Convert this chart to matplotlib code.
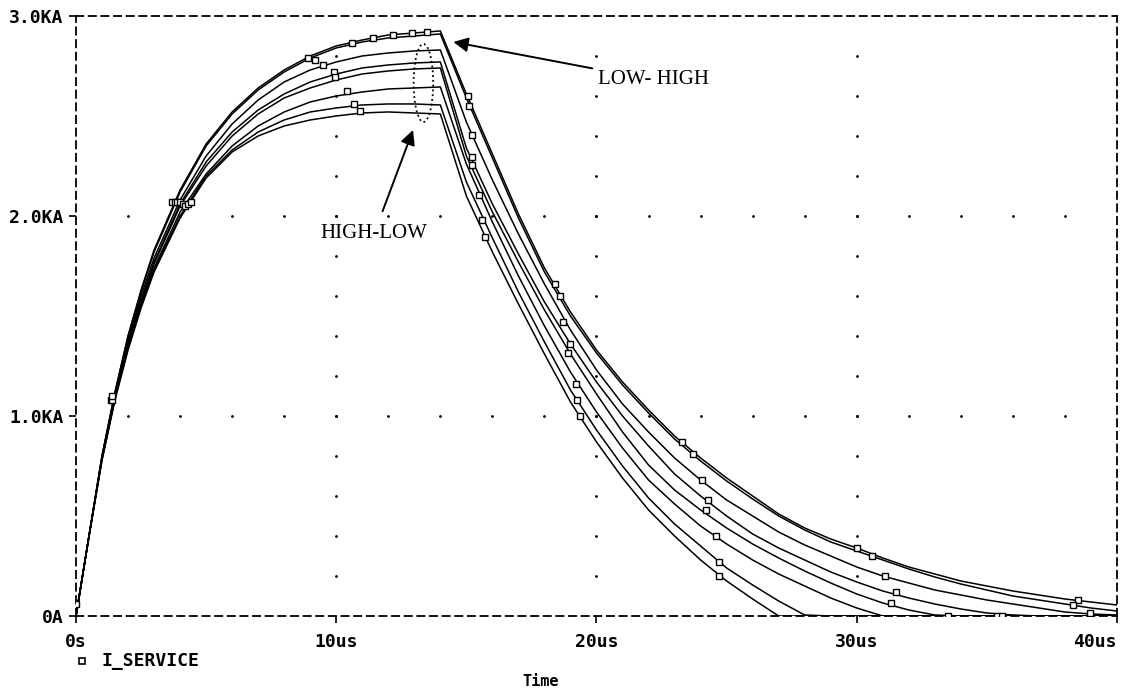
import numpy as np
import matplotlib
matplotlib.use("Agg")
from matplotlib import pyplot as plt
from matplotlib.patches import Ellipse

# time axis (us): rise part then fall part
t_rise = [0, 0.5, 1, 1.5, 2, 2.5, 3, 4, 5, 6, 7, 8, 9, 10, 11, 12, 13, 14]
t_fall = [15, 16, 17, 18, 19, 20, 21, 22, 23, 24, 25, 26, 27, 28, 29, 30,
          31, 32, 33, 34, 35, 36, 37, 38, 39, 40]
t_us = t_rise + t_fall

# I_SERVICE traces (KA), from highest peak to lowest peak
i_a1 = [0, .40, .80, 1.12, 1.40, 1.63, 1.83, 2.13, 2.36, 2.52, 2.64, 2.73, 2.80, 2.85, 2.88, 2.905, 2.915, 2.925,
        2.61, 2.31, 2.01, 1.74, 1.52, 1.33, 1.17, 1.03, 0.90, 0.79, 0.69, 0.60, 0.51, 0.44, 0.385, 0.34,
        0.29, 0.245, 0.21, 0.175, 0.15, 0.125, 0.105, 0.085, 0.07, 0.055]
i_a2 = [0, .40, .80, 1.12, 1.40, 1.62, 1.82, 2.12, 2.35, 2.51, 2.63, 2.72, 2.79, 2.84, 2.87, 2.89, 2.90, 2.91,
        2.59, 2.29, 1.99, 1.72, 1.50, 1.315, 1.155, 1.015, 0.885, 0.775, 0.675, 0.585, 0.50, 0.43, 0.37, 0.325,
        0.28, 0.235, 0.195, 0.16, 0.13, 0.10, 0.08, 0.06, 0.04, 0.025]
i_b = [0, .40, .80, 1.11, 1.38, 1.60, 1.79, 2.08, 2.30, 2.46, 2.58, 2.67, 2.73, 2.77, 2.80, 2.815, 2.825, 2.83,
       2.47, 2.18, 1.91, 1.66, 1.43, 1.23, 1.06, 0.92, 0.79, 0.68, 0.58, 0.50, 0.42, 0.355, 0.30, 0.245,
       0.20, 0.165, 0.13, 0.105, 0.08, 0.06, 0.04, 0.02, 0.01, 0.005]
i_c = [0, .40, .79, 1.10, 1.37, 1.58, 1.77, 2.06, 2.27, 2.42, 2.53, 2.61, 2.67, 2.71, 2.74, 2.755, 2.765, 2.77,
       2.34, 2.06, 1.81, 1.57, 1.36, 1.17, 1.00, 0.85, 0.71, 0.60, 0.50, 0.41, 0.34, 0.28, 0.22, 0.17,
       0.125, 0.09, 0.06, 0.035, 0.015, 0.005, 0.0, 0.0, 0.0, 0.0]
i_d = [0, .40, .79, 1.10, 1.36, 1.57, 1.76, 2.05, 2.25, 2.40, 2.51, 2.59, 2.64, 2.68, 2.71, 2.725, 2.735, 2.74,
       2.30, 2.02, 1.77, 1.53, 1.31, 1.11, 0.92, 0.755, 0.63, 0.53, 0.44, 0.36, 0.29, 0.225, 0.165, 0.11,
       0.065, 0.03, 0.005, 0.0, 0.0, 0.0, 0.0, 0.0, 0.0, 0.0]
i_e = [0, .40, .79, 1.09, 1.35, 1.56, 1.74, 2.02, 2.21, 2.35, 2.45, 2.52, 2.57, 2.60, 2.62, 2.635, 2.64, 2.645,
       2.26, 1.97, 1.70, 1.45, 1.22, 1.02, 0.84, 0.68, 0.56, 0.45, 0.36, 0.28, 0.21, 0.15, 0.09, 0.04,
       0.0, 0.0, 0.0, 0.0, 0.0, 0.0, 0.0, 0.0, 0.0, 0.0]
i_f = [0, .40, .78, 1.09, 1.34, 1.55, 1.73, 2.00, 2.20, 2.33, 2.42, 2.48, 2.52, 2.54, 2.555, 2.56, 2.56, 2.555,
       2.17, 1.89, 1.62, 1.37, 1.13, 0.93, 0.75, 0.59, 0.46, 0.35, 0.24, 0.155, 0.075, 0.005, 0.0, 0.0,
       0.0, 0.0, 0.0, 0.0, 0.0, 0.0, 0.0, 0.0, 0.0, 0.0]
i_g = [0, .40, .78, 1.08, 1.33, 1.54, 1.72, 1.99, 2.19, 2.32, 2.40, 2.45, 2.48, 2.50, 2.515, 2.52, 2.515, 2.51,
       2.10, 1.82, 1.56, 1.31, 1.07, 0.87, 0.69, 0.53, 0.40, 0.28, 0.175, 0.085, 0.0, 0.0, 0.0, 0.0,
       0.0, 0.0, 0.0, 0.0, 0.0, 0.0, 0.0, 0.0, 0.0, 0.0]
traces = [i_a1, i_a2, i_b, i_c, i_d, i_e, i_f, i_g]

# marker positions (t us, I KA) seen on each trace
mk_a1 = [(0, 0.06), (1.35, 1.08), (3.7, 2.07), (8.9, 2.79), (10.6, 2.865), (11.4, 2.89), (12.2, 2.905),
         (12.9, 2.915), (13.5, 2.92), (15.05, 2.6), (18.4, 1.66), (23.3, 0.87), (30.0, 0.34), (38.5, 0.08)]
mk_a2 = [(1.4, 1.08), (3.8, 2.07), (9.2, 2.78), (15.1, 2.55), (18.6, 1.6), (23.7, 0.81), (30.6, 0.3), (38.3, 0.055)]
mk_b = [(1.4, 1.1), (3.9, 2.07), (9.5, 2.755), (15.2, 2.405), (18.7, 1.47), (24.05, 0.68), (31.1, 0.2), (38.95, 0.015)]
mk_c = [(4.0, 2.07), (9.9, 2.72), (15.2, 2.295), (19.0, 1.36), (24.3, 0.58), (31.5, 0.12)]
mk_d = [(4.1, 2.06), (9.95, 2.695), (15.2, 2.255), (18.9, 1.315), (24.2, 0.53), (31.3, 0.065)]
mk_e = [(4.2, 2.05), (10.4, 2.625), (15.5, 2.105), (19.2, 1.16), (24.6, 0.40), (33.5, 0.0)]
mk_f = [(4.3, 2.06), (10.7, 2.56), (15.6, 1.98), (19.25, 1.08), (24.7, 0.27), (35.4, 0.0)]
mk_g = [(4.4, 2.07), (10.9, 2.525), (15.7, 1.895), (19.35, 1.0), (24.7, 0.20), (35.6, 0.0)]
markers = [mk_a1, mk_a2, mk_b, mk_c, mk_d, mk_e, mk_f, mk_g]

x_ticks = [0, 10, 20, 30, 40]
x_labels = ['0s', '10us', '20us', '30us', '40us']
y_ticks = [0, 1, 2, 3]
y_labels = ['0A', '1.0KA', '2.0KA', '3.0KA']

mono = {'family': 'DejaVu Sans Mono', 'weight': 'bold', 'size': 13}
serif = {'family': 'Liberation Serif', 'size': 15}

fig = plt.figure(figsize=(11.31, 6.94), dpi=100)
ax = fig.add_axes([0.0672, 0.1124, 0.9204, 0.8646])

# dotted grid
for gx in [10, 20, 30]:
    gy = np.arange(0.2, 3.0, 0.2)
    ax.plot([gx] * len(gy), gy, 'k.', ms=2, zorder=1)
for gy in [1, 2]:
    gx = np.arange(2, 40, 2)
    ax.plot(gx, [gy] * len(gx), 'k.', ms=2, zorder=1)

for tr, mk in zip(traces, markers):
    ax.plot(t_us, tr, color='k', lw=1.1, zorder=3)
    mx = [p[0] for p in mk]
    my = [p[1] for p in mk]
    ax.plot(mx, my, 's', mfc='white', mec='k', ms=5, mew=1.0, zorder=4)

ax.set_xlim(0, 40)
ax.set_ylim(0, 3.0)
ax.set_xticks(x_ticks)
ax.set_xticklabels(x_labels, fontdict=mono)
ax.set_yticks(y_ticks)
ax.set_yticklabels(y_labels, fontdict=mono)
ax.get_xticklabels()[-1].set_horizontalalignment('right')
ax.tick_params(axis='both', direction='out', length=5, width=1.2, pad=4)
ax.tick_params(axis='x', pad=7)

for sp in ax.spines.values():
    sp.set_linestyle((0, (4, 3)))
    sp.set_linewidth(1.3)

# dotted region around the high-low peaks
ax.add_patch(Ellipse((13.35, 2.665), 0.75, 0.39, fill=False, ls=':', lw=1.3, ec='k', zorder=5))

ax.annotate('LOW- HIGH', xy=(14.5, 2.87), xytext=(20.05, 2.68), va='center', ha='left',
            arrowprops=dict(arrowstyle='-|>', color='k', lw=1.4, mutation_scale=22, shrinkA=2, shrinkB=0),
            **serif)
ax.annotate('HIGH-LOW', xy=(12.95, 2.43), xytext=(9.4, 1.91), va='center', ha='left',
            arrowprops=dict(arrowstyle='-|>', color='k', lw=1.4, mutation_scale=22, shrinkA=8, shrinkB=0),
            **serif)

# legend marker and axis title
fig.lines.append(plt.Line2D([0.0725], [0.0476], marker='s', ms=4, mfc='white', mec='k', mew=1.2,
                            transform=fig.transFigure))
fig.text(0.090, 0.0476, 'I_SERVICE', fontdict=mono, va='center', ha='left')
fig.text(0.478, 0.0173, 'Time', fontdict={'family': 'DejaVu Sans Mono', 'weight': 'bold', 'size': 11},
         va='center', ha='center')

fig.savefig('out.png', dpi=100)
